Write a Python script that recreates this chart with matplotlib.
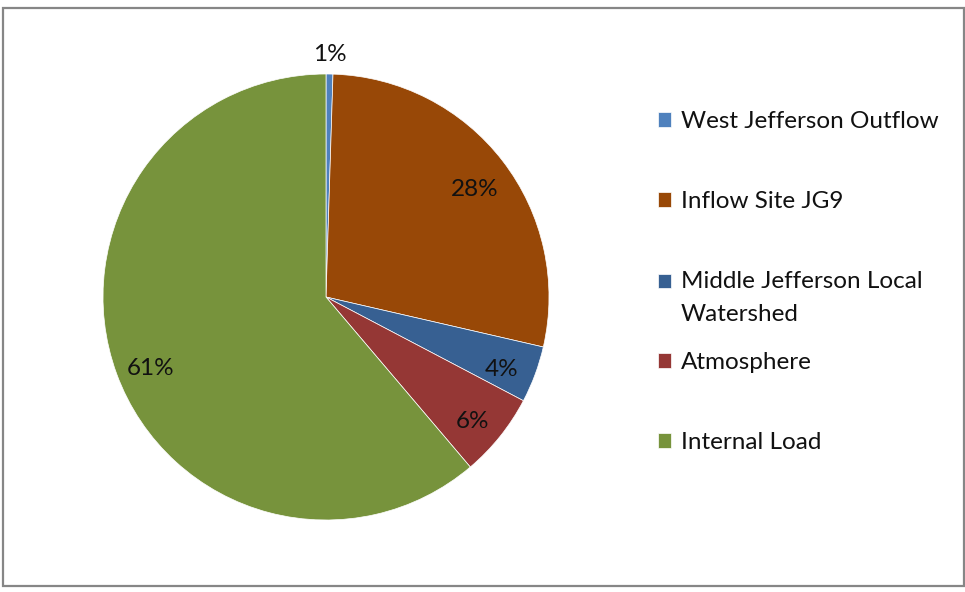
import math
import matplotlib
matplotlib.use("Agg")
import matplotlib.pyplot as plt
from matplotlib.patches import Rectangle
from matplotlib.legend_handler import HandlerPatch
from matplotlib.transforms import ScaledTranslation

plt.rcParams['font.family'] = ['Lato', 'DejaVu Sans']

# Phosphorus load sources (share of total, %)
sources = ["West Jefferson Outflow", "Inflow Site JG9",
           "Middle Jefferson Local\nWatershed", "Atmosphere", "Internal Load"]
shares = [0.5, 28.1, 4.1, 6.1, 61.2]
colors = ["#4F81BD", "#984807", "#376092", "#953735", "#77933C"]

W, H = 965, 592
FS = 17.5
TXT = "#111111"

fig = plt.figure(figsize=(W / 100, H / 100), dpi=100)

# outer chart border
fig.patches.append(Rectangle((2.5 / W, 6.5 / H), 961 / W, 578 / H,
                             transform=fig.transFigure, fill=False,
                             edgecolor="#868686", linewidth=1.6))

ax = fig.add_axes([103 / W, 72 / H, 446 / W, 446 / H])


def pct_label(p):
    return f"{math.floor(p + 0.5):d}%"


wedges, _, autotexts = ax.pie(
    shares, colors=colors, startangle=90, counterclock=False,
    autopct=pct_label, pctdistance=0.84, radius=1.0,
    wedgeprops=dict(edgecolor="white", linewidth=0.5),
    textprops=dict(fontsize=FS, color=TXT))

# inside labels sit slightly below the mid-radius point
nudge = ax.transData + ScaledTranslation(0, -5 / 100, fig.dpi_scale_trans)
for t in autotexts[1:]:
    t.set_verticalalignment("center_baseline")
    t.set_transform(nudge)

# smallest slice gets its label outside the pie
w0 = wedges[0]
mid = math.radians((w0.theta1 + w0.theta2) / 2)
autotexts[0].set_verticalalignment("center_baseline")
autotexts[0].set_position((1.095 * math.cos(mid), 1.095 * math.sin(mid)))

ax.set_xlim(-1, 1)
ax.set_ylim(-1, 1)
ax.set_aspect("equal")


def square(offset):
    # legend swatch, optionally raised to sit beside the first text line
    def make(legend, orig_handle, xdescent, ydescent, width, height, fontsize):
        return Rectangle((-xdescent, -ydescent + offset), width, height)
    return HandlerPatch(patch_func=make)


common = dict(loc="upper left", frameon=False, fontsize=FS, borderpad=0,
              borderaxespad=0, handlelength=0.55, handleheight=0.55,
              handletextpad=0.4, labelspacing=2.43)

leg_top = fig.legend(wedges[:3], sources[:3],
                     bbox_to_anchor=(658 / W, 1 - 111 / H),
                     handler_map={wedges[2]: square(12.2)}, **common)
for t in leg_top.get_texts():
    t.set_color(TXT)
    t.set_linespacing(1.7)

leg_bot = fig.legend(wedges[3:], sources[3:],
                     bbox_to_anchor=(658 / W, 1 - 352 / H), **common)
for t in leg_bot.get_texts():
    t.set_color(TXT)

fig.savefig("out.png", dpi=100)
